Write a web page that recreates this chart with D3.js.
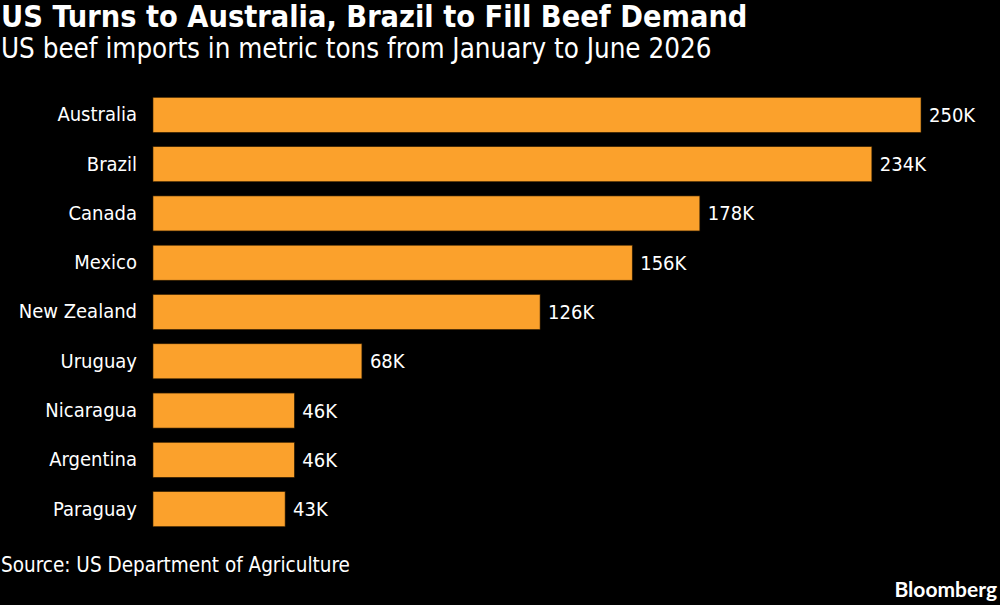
<!DOCTYPE html>
<html>
<head>
<meta charset="utf-8">
<script src="https://cdn.jsdelivr.net/npm/d3@7"></script>
<style>
  body { margin: 0; background: #000; }
  svg text { font-family: "DejaVu Sans Condensed", "DejaVu Sans", sans-serif; font-stretch: condensed; fill: #fff; }
</style>
</head>
<body>
<div id="chart"></div>
<script>
const countries = ["Australia", "Brazil", "Canada", "Mexico", "New Zealand", "Uruguay", "Nicaragua", "Argentina", "Paraguay"];
const imports = [250, 234, 178, 156, 126, 68, 46, 46, 43];
const labels = ["250K", "234K", "178K", "156K", "126K", "68K", "46K", "46K", "43K"];

const data = countries.map((c, i) => ({ country: c, value: imports[i], label: labels[i] }));

const width = 1000, height = 605;

const svg = d3.select("#chart")
              .append("svg")
              .attr("width", width)
              .attr("height", height);

svg.append("rect")
   .attr("width", width)
   .attr("height", height)
   .attr("fill", "#000");

const x = d3.scaleLinear()
            .domain([0, 250])
            .range([153, 921]);

const y = d3.scaleBand()
            .domain(countries)
            .range([90, 534])
            .paddingInner(0.29)
            .paddingOuter(0.15);

// Title
svg.append("text")
   .attr("x", 1)
   .attr("y", 27)
   .style("font-size", "30.4px")
   .style("font-weight", "bold")
   .text("US Turns to Australia, Brazil to Fill Beef Demand");

svg.append("text")
   .attr("x", 1)
   .attr("y", 58)
   .style("font-size", "27.5px")
   .text("US beef imports in metric tons from January to June 2026");

// Bars
svg.selectAll("rect.bar")
   .data(data)
   .enter()
   .append("rect")
   .attr("class", "bar")
   .attr("x", x(0))
   .attr("y", d => y(d.country))
   .attr("width", d => x(d.value) - x(0))
   .attr("height", y.bandwidth())
   .attr("fill", "#FBA12C")
   .attr("stroke", "#3a2200")
   .attr("stroke-width", 0.6);

// Category labels
svg.append("g")
   .attr("transform", `translate(${x(0)},0)`)
   .call(d3.axisLeft(y).tickSize(0).tickPadding(16))
   .call(g => g.select(".domain").remove())
   .selectAll("text")
   .attr("font-family", null)
   .style("font-size", "20px");

// Value labels
svg.selectAll("text.value")
   .data(data)
   .enter()
   .append("text")
   .attr("class", "value")
   .attr("x", d => x(d.value) + 8)
   .attr("y", d => y(d.country) + y.bandwidth() / 2)
   .attr("dy", "0.35em")
   .style("font-size", "20px")
   .text(d => d.label);

// Footer
svg.append("text")
   .attr("x", 1)
   .attr("y", 572)
   .style("font-size", "20.5px")
   .text("Source: US Department of Agriculture");

svg.append("text")
   .attr("x", 997)
   .attr("y", 597)
   .attr("text-anchor", "end")
   .style("font-family", "Lato, 'Open Sans', sans-serif")
   .style("font-stretch", "normal")
   .style("font-size", "21px")
   .style("font-weight", "bold")
   .text("Bloomberg");
</script>
</body>
</html>
